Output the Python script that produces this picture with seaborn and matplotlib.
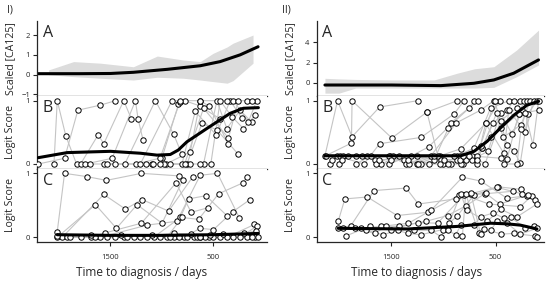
import numpy as np
import pandas as pd
import seaborn as sns
import matplotlib
matplotlib.use("Agg")
import matplotlib.pyplot as plt

sns.set_style("ticks")
plt.rcParams['font.family'] = ['Open Sans', 'DejaVu Sans']

# ---------- panel I ----------
# A: scaled CA125 fit and band
la_fit_day = [2209, 1800, 1500, 1277, 947, 626, 432, 238, 63]
la_fit = [0.05, 0.05, 0.06, 0.12, 0.27, 0.45, 0.66, 1.0, 1.41]
la_band_day = [2102, 1859, 1597, 1277, 1044, 791, 626, 500, 364, 306, 112]
la_band_hi = [0.24, 0.66, 0.58, 0.40, 0.94, 0.74, 0.66, 1.08, 1.4, 1.59, 2.0]
la_band_lo = [0.0, -0.1, -0.18, -0.27, -0.13, -0.18, -0.27, -0.35, -0.43, -0.3, 0.58]

# B: logit score per patient
lb_n = [5, 4, 5, 5, 6, 5, 6, 6, 6, 7, 7, 6, 7, 6]
lb_day = [2202, 1947, 1817, 1597, 1451,
          2050, 2018, 1934, 1830,
          1791, 1620, 1565, 1371, 1296,
          1743, 1484, 1257, 1231, 1183,
          1701, 1565, 1361, 1063, 885, 804,
          1532, 1251, 998, 838, 820,
          1451, 1209, 901, 778, 633, 432,
          1154, 960, 723, 626, 536, 351,
          1096, 982, 756, 610, 464, 254,
          1086, 924, 804, 675, 471, 335, 222,
          1015, 723, 594, 464, 367, 238, 125,
          633, 523, 432, 319, 206, 92,
          1015, 820, 626, 367, 303, 157, 76,
          778, 594, 351, 254, 173, 125]
lb_val = [0, 0.09, 0.85, 0.93, 1,
          0, 1, 0.44, 0,
          0, 0.46, 0.32, 1, 0.71,
          0, 0.09, 1, 0.71, 0.38,
          0, 0, 0, 1, 0.47, 0.15,
          0, 0, 0.1, 0.94, 0.98,
          0, 0, 1, 1, 0.92, 0.71,
          0, 0, 0.19, 1, 0.91, 0.31,
          0, 0, 0, 0.64, 0.54, 0.15,
          0, 0, 0, 0.83, 0.46, 1, 0.73,
          0, 0, 0, 1, 0.56, 0.85, 0.66,
          0, 0, 1, 0.75, 0.56, 0.77,
          0.1, 1, 1, 1, 1, 0.67, 1,
          0, 0.88, 0.41, 1, 1, 1]
lb_fit_day = [2202, 1921, 1500, 1209, 1047, 918, 840, 756, 562, 335, 206, 60]
lb_fit = [0.1, 0.18, 0.2, 0.17, 0.14, 0.15, 0.22, 0.35, 0.56, 0.8, 0.88, 0.89]

# C
lc_n = [6, 6, 6, 7, 7, 7, 8, 7, 7, 7, 6, 6, 9]
lc_day = [2018, 1947, 1733, 1539, 1199, 830,
          2018, 1646, 1442, 1241, 998, 795,
          1970, 1565, 1354, 1193, 934, 697,
          1922, 1694, 1549, 1199, 862, 714, 555,
          1890, 1597, 1144, 853, 626, 458, 244,
          1791, 1451, 1079, 820, 740, 571, 367,
          1532, 1273, 950, 804, 642, 448, 212, 173,
          1371, 1015, 788, 626, 497, 309, 141,
          1338, 1209, 885, 691, 545, 367, 99,
          918, 756, 659, 578, 432, 238, 70,
          837, 626, 497, 303, 173, 92,
          2018, 1646, 1144, 625, 125, 60,
          1690, 1400, 1100, 880, 720, 530, 400, 200, 80]
lc_val = [0.09, 1.0, 0.95, 0.89, 1.0, 0.96,
          0, 0.51, 0.14, 0.51, 0.22, 0.9,
          0, 0.67, 0.44, 0.59, 0.41, 0.95,
          0, 0, 0.07, 0.22, 0.85, 0.39, 0.46,
          0, 0, 0.19, 0.25, 0.97, 1.0, 0.30,
          0, 0, 0, 0.31, 0.6, 0.65, 0.34,
          0, 0, 0, 0.31, 0.28, 0.68, 0.85, 0.94,
          0, 0, 0, 0.14, 0.12, 0.40, 0.59,
          0, 0, 0, 0, 0, 0, 0.2,
          0, 0, 0, 0, 0, 0, 0.18,
          0, 0, 0, 0, 0, 0,
          0.02, 0, 0, 0, 0, 0,
          0.03, 0.04, 0.03, 0.06, 0.05, 0.04, 0.05, 0.06, 0.1]
lc_fit_day = [2018, 1500, 1000, 500, 60]
lc_fit = [0.04, 0.03, 0.03, 0.04, 0.06]

# ---------- panel II ----------
ra_fit_day = [2135, 1500, 1024, 707, 516, 326, 88]
ra_fit = [-0.2, -0.2, -0.26, -0.03, 0.3, 0.96, 2.27]
ra_band_day = [2135, 2000, 1841, 1500, 1088, 868, 700, 516, 297, 88]
ra_band_hi = [0.46, 0.4, 0.35, 0.3, 0.3, 0.96, 1.4, 1.6, 3.25, 5.2]
ra_band_lo = [-1.0, -1.0, -0.5, -0.5, -0.5, -0.5, -0.5, -0.43, 0.62, 1.77]

rb_n = [5, 6, 7, 9, 8, 9, 9, 8, 9, 9, 10, 9, 8, 8, 8, 6, 8]
rb_day = [2135, 2014, 1875, 1611, 1246,
          2129, 1881, 1875, 1494, 1157, 865,
          2087, 2024, 1760, 1611, 1214, 897, 802,
          2072, 1992, 1833, 1659, 1373, 1141, 960, 754, 706,
          2002, 1960, 1779, 1525, 1310, 1087, 929, 668,
          1976, 1913, 1729, 1516, 1357, 1119, 875, 643, 516,
          1840, 1691, 1595, 1421, 1252, 1033, 833, 595, 459,
          1643, 1484, 1325, 1056, 871, 706, 548, 373,
          1621, 1341, 1214, 1008, 840, 627, 525, 389, 325,
          1525, 1246, 1024, 808, 722, 601, 452, 294, 262,
          1500, 1141, 992, 865, 786, 675, 548, 443, 278, 224,
          1157, 1033, 833, 722, 573, 452, 341, 246, 198,
          929, 786, 681, 627, 490, 427, 256, 167,
          960, 840, 675, 595, 421, 373, 214, 135,
          808, 643, 509, 389, 325, 262, 189, 103,
          421, 294, 256, 214, 141, 87,
          1252, 1087, 897, 754, 443, 389, 278, 87]
rb_val = [0.13, 1.0, 0.43, 0.9, 1.0,
          0.13, 0.33, 1.0, 0.41, 0.82, 1.0,
          0, 0.13, 0, 0.32, 0.42, 0.79, 1.0,
          0.07, 0.13, 0.13, 0.07, 0.07, 0.27, 0.57, 0.88, 1.0,
          0, 0.13, 0.13, 0, 0.13, 0.07, 0.65, 1.0,
          0.07, 0.13, 0.13, 0.13, 0, 0.13, 0.65, 0.85, 1.0,
          0, 0.13, 0, 0.13, 0, 0.13, 0.24, 0.64, 1.0,
          0, 0.13, 0, 0.13, 0.13, 0.25, 0.88, 1.0,
          0.07, 0.07, 0, 0, 0.13, 0.26, 0.64, 0.85, 1.0,
          0.13, 0, 0.07, 0, 0.13, 0, 0.68, 0.89, 1.0,
          0.07, 0, 0.07, 0.07, 0.13, 0.13, 0.42, 0.57, 0.79, 1.0,
          0.82, 0, 0, 0.07, 0.2, 0.81, 0.47, 0.85, 1.0,
          0, 0.07, 0, 0.26, 0.8, 0.42, 0.62, 1.0,
          0, 0.07, 0.07, 0.64, 0.17, 0.85, 0.5, 1.0,
          0.13, 0.29, 1.0, 0.3, 0.2, 0.02, 0.79, 1.0,
          0, 0, 0.55, 0.8, 0.3, 1.0,
          0.13, 0.13, 0.13, 0.13, 0.09, 0.08, 0.79, 0.85]
rb_fit_day = [2135, 833, 706, 579, 452, 325, 198, 87]
rb_fit = [0.13, 0.13, 0.2, 0.36, 0.57, 0.77, 0.93, 0.99]

rc_n = [8, 9, 9, 9, 10, 11, 10, 10, 8, 7]
rc_day = [2008, 1944, 1729, 1443, 1151, 849, 605, 332,
          2008, 1887, 1665, 1357, 1240, 881, 738, 478, 256,
          1960, 1792, 1595, 1335, 1119, 817, 643, 389, 198,
          1935, 1706, 1506, 1246, 1056, 802, 563, 262, 151,
          1849, 1659, 1548, 1421, 1167, 960, 786, 595, 459, 192,
          1738, 1579, 1437, 1341, 1214, 1008, 865, 706, 484, 246, 119,
          1278, 1119, 1024, 944, 833, 776, 579, 452, 294, 103,
          960, 881, 833, 706, 643, 522, 421, 351, 214, 135,
          817, 786, 659, 548, 484, 389, 262, 103,
          738, 643, 611, 443, 325, 119, 103]
rc_val = [0.25, 0.6, 0.63, 0.34, 0.39, 0.66, 0.68, 0.72,
          0.14, 0.18, 0.73, 0.77, 0.52, 0.6, 0.68, 0.79, 0.75,
          0.14, 0.14, 0.17, 0.22, 0.42, 0.94, 0.88, 0.61, 0.65,
          0.02, 0.17, 0.12, 0.23, 0.22, 0.66, 0.52, 0.48, 0.65,
          0.14, 0.06, 0.17, 0.17, 0.25, 0.34, 0.49, 0.69, 0.52, 0.66,
          0.11, 0.04, 0.11, 0.06, 0.04, 0.12, 0.34, 0.66, 0.78, 0.68, 0.59,
          0.11, 0.11, 0.01, 0.22, 0.68, 0.42, 0.25, 0.44, 0.32, 0.52,
          0.11, 0.04, 0.19, 0.19, 0.32, 0.38, 0.3, 0.31, 0.14, 0.18,
          0.02, 0.68, 0.06, 0.11, 0.25, 0.22, 0.05, 0.14,
          0.7, 0.05, 0.13, 0.05, 0.06, 0.02, 0.01]
rc_fit_day = [2008, 1341, 865, 548, 389, 262, 103]
rc_fit = [0.14, 0.13, 0.17, 0.22, 0.21, 0.19, 0.13]

xticks = [1500, 500]


def frame(n, day, val):
    pid = np.repeat(np.arange(len(n)), n)
    return pd.DataFrame({"pid": pid, "day": day, "val": val})


def draw_scores(ax, df, fit_day, fit):
    sns.lineplot(data=df, x="day", y="val", units="pid", estimator=None,
                 color="#c4c4c4", lw=0.8, ax=ax, sort=True)
    sns.scatterplot(data=df, x="day", y="val", ax=ax, s=15, facecolor="white",
                    edgecolor="black", linewidth=0.7, zorder=3)
    sns.lineplot(x=fit_day, y=fit, color="black", lw=2.2, ax=ax, zorder=4)


fig = plt.figure(figsize=(5.5, 2.81), dpi=100)

cols = [
    dict(x0=0.0673, w=0.4176, xlim=(2215, -21), ylimA=(-1.076, 2.71), yticksA=[-1, 0, 1, 2],
         A=(la_fit_day, la_fit, la_band_day, la_band_hi, la_band_lo),
         B=(frame(lb_n, lb_day, lb_val), lb_fit_day, lb_fit),
         C=(frame(lc_n, lc_day, lc_val), lc_fit_day, lc_fit),
         tag="I)", tagx=0.013, xlx=0.457),
    dict(x0=0.5758, w=0.4124, xlim=(2214, 40), ylimA=(-1.28, 6.1), yticksA=[0, 2, 4],
         A=(ra_fit_day, ra_fit, ra_band_day, ra_band_hi, ra_band_lo),
         B=(frame(rb_n, rb_day, rb_val), rb_fit_day, rb_fit),
         C=(frame(rc_n, rc_day, rc_val), rc_fit_day, rc_fit),
         tag="II)", tagx=0.513, xlx=0.44),
]

for c in cols:
    axA = fig.add_axes([c["x0"], 0.6584, c["w"], 0.2669])
    axB = fig.add_axes([c["x0"], 0.3986, c["w"], 0.2598])
    axC = fig.add_axes([c["x0"], 0.1399, c["w"], 0.2587])

    fd, fv, bd, bh, bl = c["A"]
    axA.fill_between(bd, bl, bh, color="#dcdcdc", lw=0)
    sns.lineplot(x=fd, y=fv, color="black", lw=2.2, ax=axA)
    draw_scores(axB, *c["B"])
    draw_scores(axC, *c["C"])

    for ax in (axA, axB, axC):
        ax.set_xlim(*c["xlim"])
        ax.set_xticks(xticks)
        ax.set_xlabel("")
        ax.spines["right"].set_visible(False)
        ax.spines["left"].set_linewidth(0.9)
        ax.tick_params(axis="y", direction="out", length=3, width=0.8,
                       labelsize=5.5, pad=2)
        ax.tick_params(axis="x", direction="out", length=3, width=0.8,
                       labelsize=5.5, pad=6)

    axA.spines["top"].set_visible(False)
    axA.spines["bottom"].set_linewidth(0.9)
    axA.tick_params(axis="x", labelbottom=False)
    axA.set_ylim(*c["ylimA"])
    axA.set_yticks(c["yticksA"])

    for ax in (axB, axC):
        ax.spines["top"].set_visible(False)
        ax.set_yticks([0, 1])
    axB.spines["bottom"].set_linewidth(0.9)
    axB.tick_params(axis="x", labelbottom=False)
    axB.set_ylim(-0.079, 1.074)
    axC.spines["bottom"].set_linewidth(0.9)
    axC.set_ylim(-0.069, 1.068)

    axA.set_ylabel("Scaled [CA125]", fontsize=7.6)
    axB.set_ylabel("Logit Score", fontsize=7.6)
    axC.set_ylabel("Logit Score", fontsize=7.6)
    for ax in (axA, axB, axC):
        ax.yaxis.set_label_coords(-0.09, 0.5)
    axC.set_xlabel("Time to diagnosis / days", fontsize=8.5)
    axC.xaxis.set_label_coords(c["xlx"], -0.33)

    for ax, letter in ((axA, "A"), (axB, "B"), (axC, "C")):
        ax.text(0.025, 0.95, letter, transform=ax.transAxes, fontsize=11.5,
                va="top", ha="left", zorder=5)

    fig.text(c["tagx"], 0.965, c["tag"], fontsize=7.5, va="center", ha="left")

fig.savefig("out.png", dpi=100)
